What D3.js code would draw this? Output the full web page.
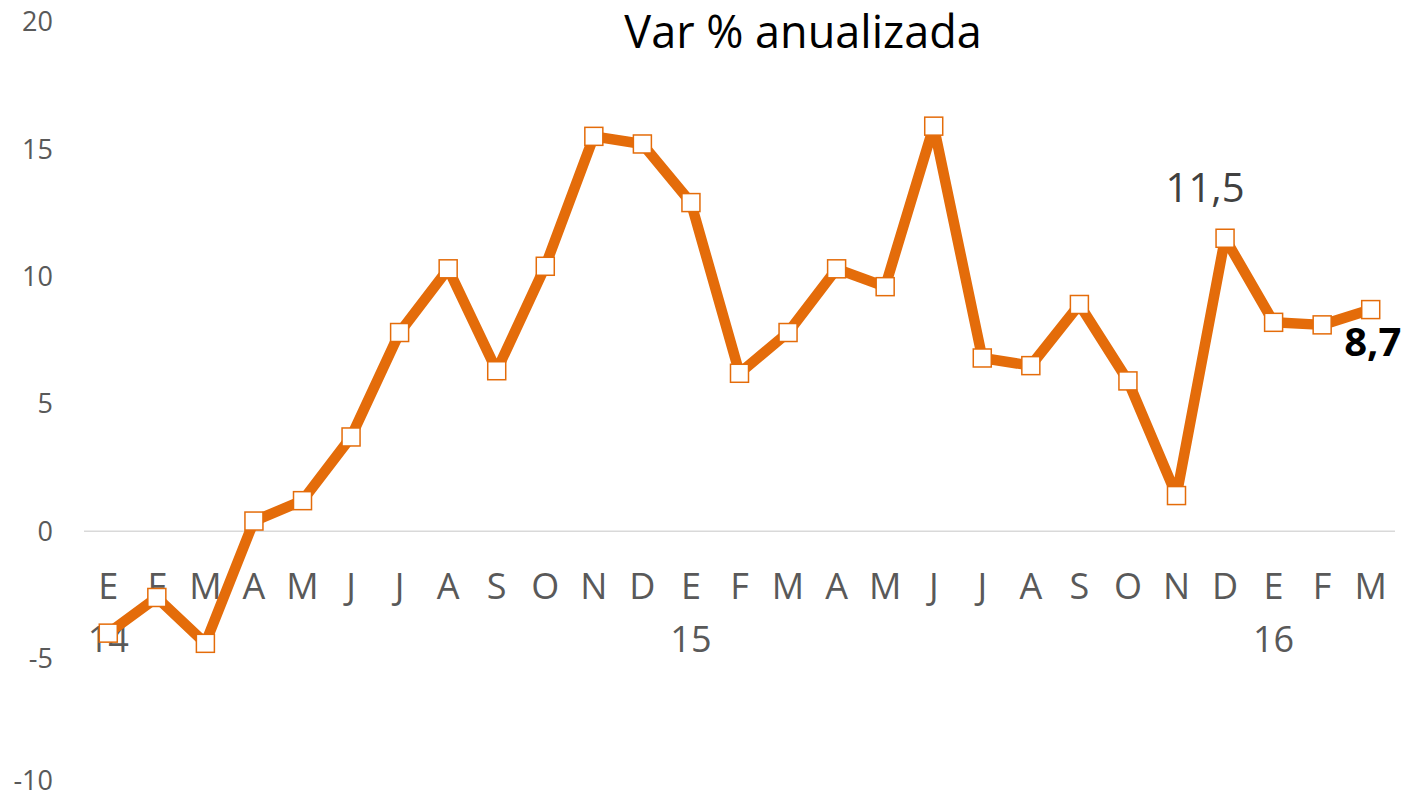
<!DOCTYPE html>
<html>
<head>
    <meta charset="utf-8">
    <title>Var % anualizada</title>
    <script src="https://d3js.org/d3.v7.min.js"></script>
    <style>
        body { margin: 0; background: #fff; }
        text { font-family: "Open Sans", sans-serif; }
    </style>
</head>
<body>
<div id="chart"></div>
<script>

// months from E-14 to M-16
var months = ["E","F","M","A","M","J","J","A","S","O","N","D",
              "E","F","M","A","M","J","J","A","S","O","N","D",
              "E","F","M"];
var values = [-4.0, -2.6, -4.4, 0.4, 1.2, 3.7, 7.8, 10.3, 6.3, 10.4, 15.5, 15.2,
              12.9, 6.2, 7.8, 10.3, 9.6, 15.9, 6.8, 6.5, 8.9, 5.9, 1.4, 11.5,
              8.2, 8.1, 8.7];
var years = [{i: 0, label: "14"}, {i: 12, label: "15"}, {i: 24, label: "16"}];
var yTicks = [-10, -5, 0, 5, 10, 15, 20];

var width = 1407, height = 800;
var orange = "#E46C0A";

var svg = d3.select("#chart").append("svg")
    .attr("width", width)
    .attr("height", height);

var x = d3.scalePoint()
    .domain(d3.range(values.length))
    .range([84, 1395])
    .padding(0.5);

var y = d3.scaleLinear()
    .domain([-10, 20])
    .range([786, 21.7]);

// title
svg.append("text")
    .attr("x", 803)
    .attr("y", 48)
    .attr("text-anchor", "middle")
    .style("font-size", "45px")
    .attr("fill", "#000")
    .text("Var % anualizada");

// y axis labels (no axis line), bottom one kept inside the page
svg.selectAll(".ytick")
    .data(yTicks)
    .enter().append("text")
    .attr("class", "ytick")
    .attr("x", 53)
    .attr("y", d => Math.min(y(d), 781))
    .attr("dy", "0.35em")
    .attr("text-anchor", "end")
    .style("font-size", "27px")
    .attr("fill", "#595959")
    .text(d => d);

// zero line
svg.append("line")
    .attr("x1", 84).attr("x2", 1395)
    .attr("y1", y(0)).attr("y2", y(0))
    .attr("stroke", "#d9d9d9")
    .attr("stroke-width", 1.5);

// month labels
svg.selectAll(".month")
    .data(months)
    .enter().append("text")
    .attr("class", "month")
    .attr("x", (d, i) => x(i))
    .attr("y", 599)
    .attr("text-anchor", "middle")
    .style("font-size", "36px")
    .attr("fill", "#595959")
    .text(d => d);

// year labels
svg.selectAll(".year")
    .data(years)
    .enter().append("text")
    .attr("class", "year")
    .attr("x", d => x(d.i))
    .attr("y", 652)
    .attr("text-anchor", "middle")
    .style("font-size", "36px")
    .attr("fill", "#595959")
    .text(d => d.label);

// the line
var line = d3.line()
    .x((d, i) => x(i))
    .y(d => y(d));

svg.append("path")
    .datum(values)
    .attr("d", line)
    .attr("fill", "none")
    .attr("stroke", orange)
    .attr("stroke-width", 10.5)
    .attr("stroke-linejoin", "round");

// markers
var ms = 18;
svg.selectAll(".marker")
    .data(values)
    .enter().append("rect")
    .attr("class", "marker")
    .attr("x", (d, i) => x(i) - ms / 2)
    .attr("y", d => y(d) - ms / 2)
    .attr("width", ms)
    .attr("height", ms)
    .attr("fill", "#fff")
    .attr("stroke", orange)
    .attr("stroke-width", 1.5);

// data labels
var peakIdx = 23, lastIdx = values.length - 1;
svg.append("text")
    .attr("x", x(peakIdx) - 20)
    .attr("y", y(values[peakIdx]) - 36)
    .attr("text-anchor", "middle")
    .style("font-size", "40px")
    .attr("fill", "#404040")
    .text(String(values[peakIdx]).replace(".", ","));

svg.append("text")
    .attr("x", x(lastIdx) + 2)
    .attr("y", y(values[lastIdx]) + 46)
    .attr("text-anchor", "middle")
    .style("font-size", "40px")
    .style("font-weight", "bold")
    .attr("fill", "#000")
    .text(String(values[lastIdx]).replace(".", ","));

</script>
</body>
</html>
